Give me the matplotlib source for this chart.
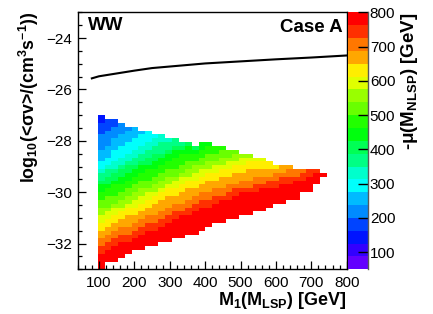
import numpy as np
import matplotlib
matplotlib.use('Agg')
import matplotlib.pyplot as plt
from matplotlib.colors import ListedColormap, BoundaryNorm, hsv_to_rgb
from matplotlib.ticker import MultipleLocator

plt.rcParams['font.family'] = ['Liberation Sans', 'DejaVu Sans']
plt.rcParams['mathtext.fontset'] = 'custom'
plt.rcParams['mathtext.rm'] = 'Liberation Sans:bold'
plt.rcParams['mathtext.bf'] = 'Liberation Sans:bold'
plt.rcParams['mathtext.it'] = 'Liberation Sans:bold:italic'
plt.rcParams['mathtext.default'] = 'rm'

# ---------------- data ----------------
# histogram binning: M1 bins of 19 GeV from 40, log10 bins of 0.15 from -33
first_col = 3   # first populated M1 bin (97-116 GeV)
# upper edge of each populated M1 column (log10 <sigma v>)
col_top = [-27.0, -27.15, -27.15, -27.3, -27.45, -27.45, -27.6, -27.6, -27.75, -27.75,
           -27.9, -27.9, -28.05, -28.05, -28.2, -28.05, -28.05, -28.2, -28.2, -28.35,
           -28.35, -28.5, -28.5, -28.65, -28.65, -28.8, -28.95, -28.95, -28.95, -29.1,
           -29.1, -29.1, -29.1, -29.25]
# lower edge of each populated M1 column
col_bot = [-33.0, -32.7, -32.7, -32.55, -32.4, -32.25, -32.25, -32.1, -32.1, -31.95,
           -31.95, -31.8, -31.8, -31.65, -31.65, -31.5, -31.35, -31.2, -31.2, -31.05,
           -31.05, -30.9, -30.9, -30.75, -30.75, -30.6, -30.45, -30.45, -30.3, -30.3,
           -30.0, -30.0, -29.7, -29.4]
# -mu value of the top cell of each column (GeV)
col_mu_top = [145, 165, 185, 205, 225, 240, 260, 280, 300, 320,
              335, 355, 375, 395, 415, 430, 450, 470, 490, 510,
              525, 545, 565, 585, 605, 620, 640, 660, 680, 700,
              715, 735, 755, 775]
mu_bottom = 795   # -mu of the lowest cell of each column

# iso-lines of -mu: level, x points, y points
iso_levels = [200, 250, 300, 370, 450, 530, 630, 700, 765]
iso_x = [[100, 160],
         [100, 210],
         [100, 260],
         [100, 200, 330],
         [100, 200, 300, 400],
         [100, 200, 300, 400, 490],
         [100, 200, 300, 400, 500, 590],
         [100, 200, 300, 400, 500, 600, 660],
         [100, 200, 300, 400, 500, 600, 700, 730]]
iso_y = [[-27.85, -27.3],
         [-28.6, -27.45],
         [-29.1, -27.7],
         [-29.45, -28.8, -28.0],
         [-29.95, -29.3, -28.65, -28.05],
         [-30.65, -30.0, -29.4, -28.8, -28.45],
         [-31.35, -30.65, -30.0, -29.45, -29.0, -28.85],
         [-31.95, -31.3, -30.7, -30.15, -29.7, -29.4, -29.0],
         [-32.4, -31.8, -31.2, -30.6, -30.1, -29.8, -29.45, -29.25]]

# black curve
line_x = [80, 100, 150, 200, 250, 300, 400, 500, 600, 700, 800]
line_y = [-25.57, -25.49, -25.38, -25.27, -25.17, -25.11, -24.99, -24.91, -24.83, -24.76, -24.68]

cbar_ticks = [100, 200, 300, 400, 500, 600, 700, 800]

# ---------------- palette (ROOT "pretty" palette, 20 contours) ----------------
nb = 20
cols = []
for k in range(nb):
    c = int((k + 0.99) * 50 / nb)
    hue = 280 - (c + 1) * 5.6
    cols.append(hsv_to_rgb((hue / 360.0, 1, 1)))
cmap = ListedColormap(cols)
levels = np.linspace(50, 800, nb + 1)
norm = BoundaryNorm(levels, nb)

# ---------------- build the histogram ----------------
dx, dy = 19.0, 0.15
x_edges = 40 + dx * np.arange(41)
y_edges = -33 + dy * np.arange(68)
Z = np.full((len(y_edges) - 1, len(x_edges) - 1), np.nan)
for i, (t, b, mt) in enumerate(zip(col_top, col_bot, col_mu_top)):
    ix = first_col + i
    xc = x_edges[ix] + dx / 2
    ys = [t - dy / 2]
    ms = [mt]
    for L, xs, yv in zip(iso_levels, iso_x, iso_y):
        if L <= mt or xc > xs[-1] + dx / 2:
            continue
        yL = float(np.interp(xc, xs, yv))
        if b + dy / 2 < yL < t - dy / 2 and yL < ys[-1]:
            ys.append(yL)
            ms.append(L)
    ys.append(b + dy / 2)
    ms.append(mu_bottom)
    jb = int(round((b + 33) / dy))
    jt = int(round((t + 33) / dy))
    for j in range(jb, jt):
        yc = y_edges[j] + dy / 2
        Z[j, ix] = np.interp(yc, ys[::-1], ms[::-1])
Z = np.ma.masked_invalid(Z)

# ---------------- figure ----------------
W, H = 433, 314
fig = plt.figure(figsize=(W / 100, H / 100), dpi=100)
ax = fig.add_axes([77.7 / W, 1 - 269.3 / H, (346.7 - 77.7) / W, (269.3 - 12.3) / H])
mesh = ax.pcolormesh(x_edges, y_edges, Z, cmap=cmap, norm=norm, shading='flat',
                     edgecolors='none', antialiased=False)
ax.plot(line_x, line_y, color='black', lw=1.5)

ax.set_xlim(40, 800)
ax.set_ylim(-33, -23)
ax.xaxis.set_major_locator(MultipleLocator(100))
ax.xaxis.set_minor_locator(MultipleLocator(20))
ax.yaxis.set_major_locator(MultipleLocator(2))
ax.yaxis.set_minor_locator(MultipleLocator(0.5))
ax.set_xticks([100, 200, 300, 400, 500, 600, 700, 800])
ax.tick_params(which='both', direction='in', top=False, right=False, width=0.9)
ax.tick_params(which='major', length=6, labelsize=11)
ax.tick_params(which='minor', length=3)
ax.tick_params(axis='x', which='major', pad=4.5)
ax.tick_params(axis='y', which='major', pad=4)
for s in ax.spines.values():
    s.set_linewidth(1.0)

fig.text(88 / W, 1 - 17 / H, 'WW', ha='left', va='top', fontsize=13.5, fontweight='bold')
fig.text(343 / W, 1 - 19.5 / H, 'Case A', ha='right', va='top', fontsize=13.5,
         fontweight='bold')

fig.text(347 / W, 1 - 305 / H, 'M$_{1}$(M$_{LSP}$) [GeV]', ha='right', va='baseline',
         fontsize=13, fontweight='bold')
fig.text(29 / W, 1 - 12 / H, 'log$_{10}$(<σv>/(cm$^{3}$s$^{-1}$))', ha='center', va='top',
         rotation=90, fontsize=12.8, fontweight='bold')

# colour bar
cax = fig.add_axes([348 / W, 1 - 269.3 / H, 19.7 / W, (269.3 - 12.3) / H])
cb = fig.colorbar(mesh, cax=cax, ticks=cbar_ticks)
cb.outline.set_visible(False)
cax.tick_params(direction='in', length=7, width=1, pad=1.5, labelsize=11)
cax.minorticks_off()
cax.plot([1, 1], [0, 1], transform=cax.transAxes, color='0.35', lw=1, clip_on=False)
fig.text(409 / W, 1 - 12 / H, '-μ(M$_{NLSP}$) [GeV]', ha='center', va='top',
         rotation=90, fontsize=13.5, fontweight='bold')

fig.savefig('out.png', dpi=100, facecolor='white')
